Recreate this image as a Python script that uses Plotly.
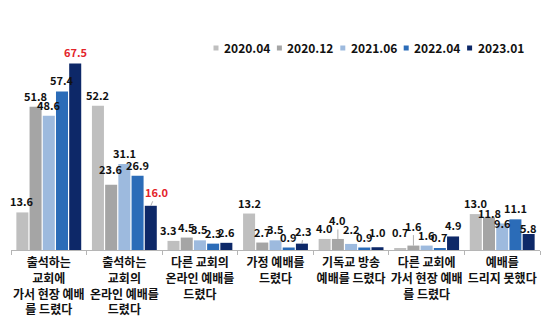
import plotly.graph_objects as go

# Survey: where respondents worshipped (%), by survey wave
categories = [
    "출석하는<br>교회에<br>가서 현장 예배<br>를 드렸다",
    "출석하는<br>교회의<br>온라인 예배를<br>드렸다",
    "다른 교회의<br>온라인 예배를<br>드렸다",
    "가정 예배를<br>드렸다",
    "기독교 방송<br>예배를 드렸다",
    "다른 교회에<br>가서 현장 예배<br>를 드렸다",
    "예배를<br>드리지 못했다",
]
waves = ["2020.04", "2020.12", "2021.06", "2022.04", "2023.01"]
v_2020_04 = [13.6, 52.2, 3.3, 13.2, 4.0, 0.7, 13.0]
v_2020_12 = [51.8, 23.6, 4.5, 2.7, 4.0, 1.6, 11.8]
v_2021_06 = [48.6, 31.1, 3.5, 3.5, 2.2, 1.6, 9.6]
v_2022_04 = [57.4, 26.9, 2.3, 0.9, 0.9, 0.7, 11.1]
v_2023_01 = [67.5, 16.0, 2.6, 2.3, 1.0, 4.9, 5.8]
series = [v_2020_04, v_2020_12, v_2021_06, v_2022_04, v_2023_01]

colors = ["#bfbfbf", "#a5a5a5", "#9dbade", "#2b6cb8", "#0d2868"]
RED = "#e3242b"
FONT = "Noto Sans CJK KR"

# grouped-bar geometry (in x-axis units)
BARGAP = 0.126
BARGROUPGAP = 0.09
slot = (1 - BARGAP) / len(series)

# highlighted labels (category index, series index)
red_labels = {(0, 4), (1, 4)}
# label nudges in pixels: (dx, extra lift, leader line)
nudges = {
    (1, 4): (6, 3, True),
    (1, 1): (0, 5, False),
    (2, 0): (-5, 0, False),
    (3, 4): (2, 2, True),
    (4, 1): (0, 8, True),
    (4, 2): (0, 4, False),
    (4, 4): (0, 4, False),
    (5, 0): (0, 5, False),
    (5, 1): (0, 9, True),
    (6, 1): (0, -7, False),
    (6, 2): (0, -11, False),
    (6, 4): (0, -5, False),
}
LIFT = 11

fig = go.Figure()
xs = list(range(len(categories)))
for name, vals, col in zip(waves, series, colors):
    fig.add_trace(go.Bar(x=xs, y=vals, name=name, marker_color=col,
                         marker_line_width=0, showlegend=False))

annotations = []
for k, vals in enumerate(series):
    for i, v in enumerate(vals):
        xpos = i + (k - (len(series) - 1) / 2) * slot
        dx, dy, leader = nudges.get((i, k), (0, 0, False))
        col = RED if (i, k) in red_labels else "#111111"
        common = dict(x=xpos, y=v, text=f"{v:.1f}",
                      font=dict(family=FONT, size=11, color=col, weight=700))
        if leader:
            annotations.append(dict(common, showarrow=True, arrowhead=0,
                                    arrowwidth=0.8, arrowcolor="#9a9a9a",
                                    ax=dx, ay=-(LIFT + dy), standoff=0))
        else:
            annotations.append(dict(common, showarrow=False, xanchor="center",
                                    yanchor="middle", xshift=dx, yshift=LIFT + dy))

# legend drawn as small squares + labels across the top
L_X0, L_PITCH, L_Y = 216, 63.4, 47
shapes = []
W, H = 549, 329
for j, (name, col) in enumerate(zip(waves, colors)):
    cx = L_X0 + j * L_PITCH
    shapes.append(dict(type="rect", xref="paper", yref="paper",
                       x0=(cx - 2.5 - 11) / 529, x1=(cx + 2.5 - 11) / 529,
                       y0=(250 - L_Y - 3.5) / 210, y1=(250 - L_Y + 1.5) / 210,
                       fillcolor=col, line_width=0))
    annotations.append(dict(xref="paper", yref="paper",
                            x=(cx + 6 - 11) / 529, y=(250 - L_Y) / 210,
                            xanchor="left", yanchor="middle", showarrow=False,
                            text=name,
                            font=dict(family=FONT, size=12, color="#111111", weight=700)))

fig.update_layout(
    width=W, height=H,
    margin=dict(l=11, r=9, t=40, b=79),
    barmode="group", bargap=BARGAP, bargroupgap=BARGROUPGAP,
    plot_bgcolor="white", paper_bgcolor="white",
    annotations=annotations, shapes=shapes,
    xaxis=dict(range=[-0.5, 6.5], tickmode="array", tickvals=xs, ticktext=categories,
               ticks="", showline=True, linecolor="#b5b5b5", linewidth=1,
               showgrid=False, zeroline=False, ticklabelstandoff=2,
               tickfont=dict(family=FONT, size=12, color="#111111", weight=700),
               minor=dict(tickmode="linear", tick0=-0.5, dtick=1, ticks="outside",
                          ticklen=4, tickcolor="#b5b5b5", tickwidth=1, showgrid=False)),
    yaxis=dict(range=[0, 76], visible=False, showgrid=False),
)

fig.write_html("out.html")
